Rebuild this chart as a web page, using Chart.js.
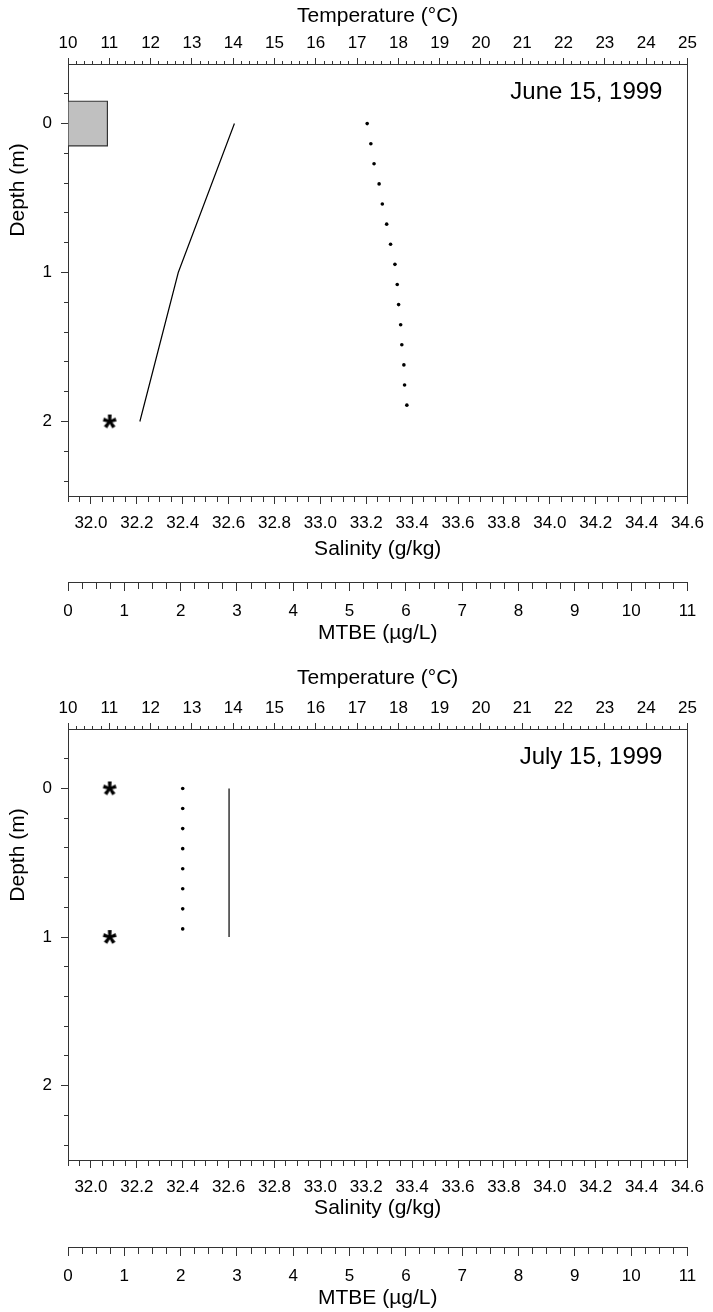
<!DOCTYPE html>
<html>
<head>
<meta charset="utf-8">
<title>Depth profiles</title>
<script src="https://cdn.jsdelivr.net/npm/chart.js@4.4.1/dist/chart.umd.min.js"></script>
<style>
  body { margin: 0; background: #fff; }
  .panel { position: absolute; left: 0; }
</style>
</head>
<body>
<div class="panel" style="top:0"><canvas id="june" width="713" height="650"></canvas></div>
<div class="panel" style="top:650px"><canvas id="july" width="713" height="662"></canvas></div>
<script>
// June 15, 1999 profile
const juneTempDepth = [0, 1, 2];
const juneTemp = [14.03, 12.67, 11.74];
const juneSalDepth = [0, 0.135, 0.27, 0.405, 0.54, 0.675, 0.81, 0.945, 1.08, 1.215, 1.35, 1.485, 1.62, 1.755, 1.89];
const juneSal = [33.204, 33.220, 33.234, 33.256, 33.270, 33.289, 33.306, 33.325, 33.335, 33.341, 33.350, 33.355, 33.364, 33.367, 33.377];
const juneMtbeDepth = [0];
const juneMtbe = [0.7];
const juneNdDepth = [2];          // MTBE not detected

// July 15, 1999 profile
const julyTempDepth = [0, 1];
const julyTemp = [13.9, 13.9];
const julySalDepth = [0, 0.135, 0.27, 0.405, 0.54, 0.675, 0.81, 0.945];
const julySal = [32.4, 32.4, 32.4, 32.4, 32.4, 32.4, 32.4, 32.4];
const julyMtbeDepth = [];
const julyMtbe = [];
const julyNdDepth = [0, 1];

const ndMark = 0.74;              // where the not-detected stars sit on the MTBE axis
const sampleHalf = 0.15;          // half the depth interval an MTBE sample stands for

// axis ranges [min, max, minor step] and the ticks that carry labels
const tempRange = [10, 25, 0.2];
const tempLabels = [10, 11, 12, 13, 14, 15, 16, 17, 18, 19, 20, 21, 22, 23, 24, 25];
const salRange = [31.9, 34.6, 0.05];
const salLabels = [32.0, 32.2, 32.4, 32.6, 32.8, 33.0, 33.2, 33.4, 33.6, 33.8, 34.0, 34.2, 34.4, 34.6];
const mtbeRange = [0, 11, 0.25];
const mtbeLabels = [0, 1, 2, 3, 4, 5, 6, 7, 8, 9, 10, 11];
const depthRange = [-0.4, 2.5, 0.2];
const depthLabels = [0, 1, 2];

const FONT = "'Liberation Sans', Arial, Helvetica, sans-serif";
const AXIS = '#333';

function stepTicks(min, max, step) {
  const out = [];
  const n = Math.floor((max - min) / step + 1e-9);
  for (let i = 0; i <= n; i++) out.push({ value: +(min + i * step).toFixed(4) });
  return out;
}

const near = (list, v) => list.some(l => Math.abs(l - v) < 1e-6);

// star image used as point style for non-detects
function starImage() {
  const c = document.createElement('canvas');
  c.width = 32; c.height = 32;
  const g = c.getContext('2d');
  g.font = 'bold 36px ' + FONT;
  g.fillStyle = '#000';
  g.textBaseline = 'alphabetic';
  g.textAlign = 'left';
  const m = g.measureText('*');
  const w = m.actualBoundingBoxRight + m.actualBoundingBoxLeft;
  const h = m.actualBoundingBoxAscent + m.actualBoundingBoxDescent;
  g.fillText('*', 16 - w / 2 + m.actualBoundingBoxLeft, 16 + h / 2 - m.actualBoundingBoxDescent);
  return c;
}
const STAR = starImage();

// one axis: long labelled ticks, short unlabelled ones (shortened with a dash)
function profileScale(o) {
  const [min, max, step] = o.range;
  const major = v => near(o.labels, v);
  const outwardFirst = o.position !== 'bottom';
  return {
    type: 'linear', axis: o.axis, position: o.position, weight: o.weight || 0,
    min: min, max: max, reverse: !!o.reverse, offset: false,
    afterBuildTicks: s => { s.ticks = stepTicks(min, max, step); },
    afterFit: s => { if (s.isHorizontal()) s.height = o.size; else s.width = o.size; },
    border: { display: true, color: AXIS, width: 1 },
    grid: {
      offset: false, drawOnChartArea: false, drawTicks: true,
      tickLength: o.tick, tickWidth: 1,
      tickColor: c => (o.hide && near(o.hide, c.tick.value)) ? 'rgba(0,0,0,0)' : AXIS,
      tickBorderDash: c => major(c.tick.value) ? [] :
        (outwardFirst ? [0, o.tick - o.minor, o.minor, 100] : [o.minor, 100])
    },
    ticks: {
      autoSkip: false, maxRotation: 0, minRotation: 0, padding: o.pad,
      color: '#000', font: { family: FONT, size: 17 },
      callback: v => major(v) ? o.fmt(v) : ''
    },
    title: {
      display: !!o.title, text: o.title, color: '#000',
      font: { family: FONT, size: 21 }, padding: o.titlePad || 0
    }
  };
}

const profileText = {
  id: 'profileText',
  afterDraw(chart, args, opts) {
    const { ctx, chartArea } = chart;
    ctx.save();
    ctx.fillStyle = '#000';
    ctx.textBaseline = 'middle';
    ctx.font = '24px ' + FONT;
    ctx.textAlign = 'right';
    ctx.fillText(opts.date, chartArea.right - 25, chartArea.top + 28);
    ctx.translate(18, chartArea.top + 126);
    ctx.rotate(-Math.PI / 2);
    ctx.font = '21px ' + FONT;
    ctx.textAlign = 'center';
    ctx.fillText('Depth (m)', 0, 0);
    ctx.restore();
  }
};

const pairs = (xs, ys) => xs.map((x, i) => ({ x: x, y: ys[i] }));

// an MTBE sample: a filled box from zero out to the concentration,
// spanning the depth interval the sample covers
function mtbeBox(value, depth) {
  const top = depth - sampleHalf, bottom = depth + sampleHalf;
  return {
    xAxisID: 'mtbe', yAxisID: 'depth', showLine: true, fill: 'shape',
    data: [
      { x: 0, y: top }, { x: value, y: top }, { x: value, y: bottom },
      { x: 0, y: bottom }, { x: 0, y: top }
    ],
    backgroundColor: '#c0c0c0', borderColor: '#333', borderWidth: 1.2, pointRadius: 0
  };
}

function drawProfile(id, p) {
  const depth = profileScale({
    axis: 'y', position: 'left', range: depthRange, labels: depthLabels, reverse: true,
    fmt: v => String(Math.round(v)), size: 68, tick: 7, minor: 4, pad: 9, hide: [-0.4, 2.5]
  });
  const boxes = p.mtbe.map((v, i) => mtbeBox(v, p.mtbeDepth[i]));
  return new Chart(document.getElementById(id), {
    type: 'scatter',
    data: {
      datasets: boxes.concat([
        {
          xAxisID: 'temp', yAxisID: 'depth', showLine: true,
          data: pairs(p.temp, p.tempDepth),
          borderColor: '#000', borderWidth: 1.2, pointRadius: 0
        },
        {
          xAxisID: 'sal', yAxisID: 'depth',
          data: pairs(p.sal, p.salDepth),
          backgroundColor: '#000', borderColor: '#000', pointRadius: 1.8, borderWidth: 0
        },
        {
          xAxisID: 'mtbe', yAxisID: 'depth',
          data: p.ndDepth.map(d => ({ x: ndMark, y: d })),
          pointStyle: STAR, pointRadius: 8
        }
      ])
    },
    options: {
      responsive: false, animation: false, events: [],
      layout: { padding: 0 },
      plugins: { legend: { display: false }, tooltip: { enabled: false }, profileText: { date: p.date } },
      scales: {
        temp: profileScale({
          axis: 'x', position: 'top', range: tempRange, labels: tempLabels,
          fmt: v => String(Math.round(v)), size: p.topSize, tick: 6, minor: 3, pad: 4,
          title: 'Temperature (°C)', titlePad: { top: p.tempTitleTop, bottom: 0 }
        }),
        sal: profileScale({
          axis: 'x', position: 'bottom', weight: 0, range: salRange, labels: salLabels,
          fmt: v => v.toFixed(1), size: p.salSize, tick: 8, minor: 5, pad: 9,
          title: 'Salinity (g/kg)', titlePad: { top: 0, bottom: p.salTitleBottom }
        }),
        mtbe: profileScale({
          axis: 'x', position: 'bottom', weight: 1, range: mtbeRange, labels: mtbeLabels,
          fmt: v => String(Math.round(v)), size: p.mtbeSize, tick: 9, minor: 6, pad: 10,
          title: 'MTBE (µg/L)', titlePad: { top: 0, bottom: p.mtbeTitleBottom }
        }),
        depth: depth,
        edge: {
          type: 'linear', axis: 'y', position: 'right', min: depthRange[0], max: depthRange[1],
          reverse: true, offset: false,
          afterFit: s => { s.width = 21; },
          border: { display: true, color: AXIS, width: 1 },
          grid: { drawOnChartArea: false, drawTicks: false },
          ticks: { display: false }
        }
      }
    },
    plugins: [profileText]
  });
}

drawProfile('june', {
  date: 'June 15, 1999',
  temp: juneTemp, tempDepth: juneTempDepth,
  sal: juneSal, salDepth: juneSalDepth,
  mtbe: juneMtbe, mtbeDepth: juneMtbeDepth,
  ndDepth: juneNdDepth,
  topSize: 64, tempTitleTop: 4,
  salSize: 86, salTitleBottom: 20,
  mtbeSize: 68, mtbeTitleBottom: 4
});

drawProfile('july', {
  date: 'July 15, 1999',
  temp: julyTemp, tempDepth: julyTempDepth,
  sal: julySal, salDepth: julySalDepth,
  mtbe: julyMtbe, mtbeDepth: julyMtbeDepth,
  ndDepth: julyNdDepth,
  topSize: 79, tempTitleTop: 16,
  salSize: 87, salTitleBottom: 26,
  mtbeSize: 65, mtbeTitleBottom: 1
});
</script>
</body>
</html>
